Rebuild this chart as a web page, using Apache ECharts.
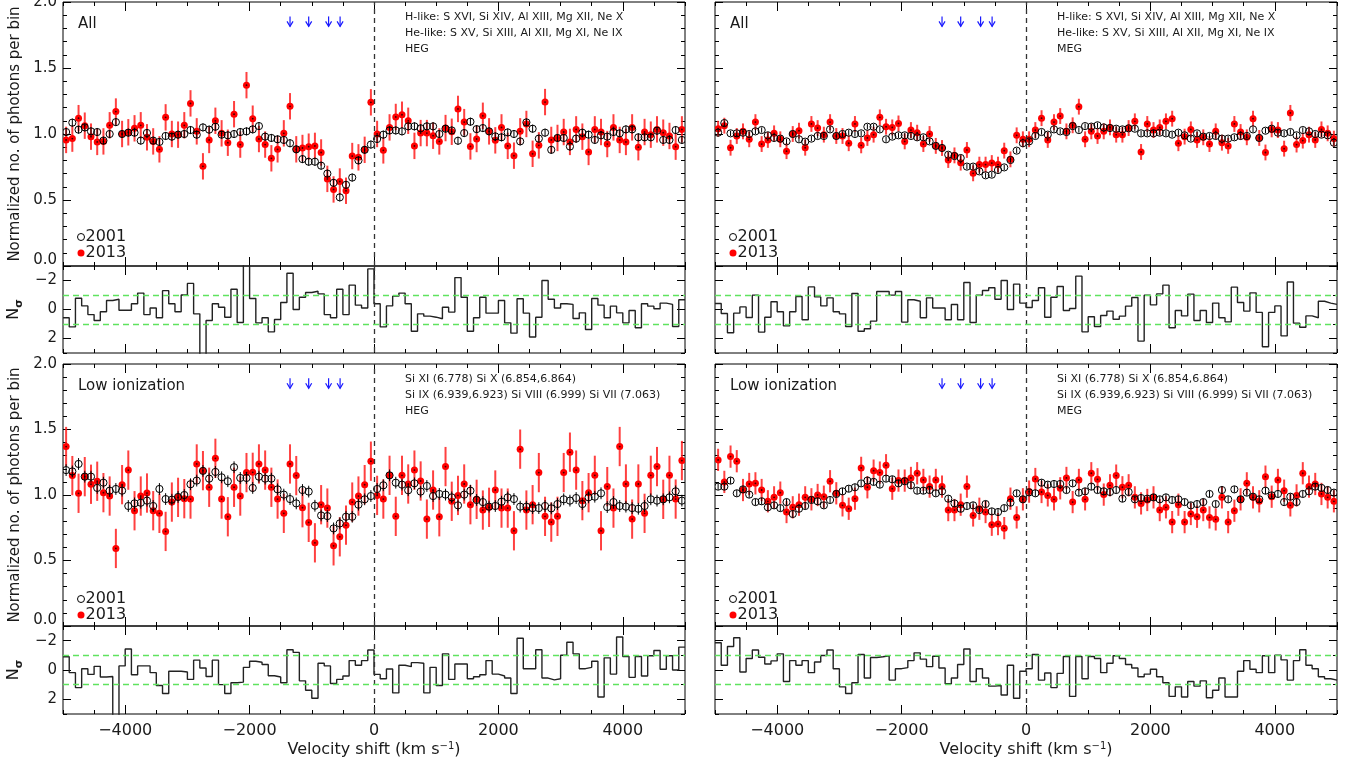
<!DOCTYPE html>
<html><head><meta charset="utf-8">
<script src="https://cdn.jsdelivr.net/npm/echarts@6/dist/echarts.min.js"></script>
<style>html,body{margin:0;padding:0;background:#fff}#c{width:1351px;height:769px}</style>
</head><body><div id="c"></div><script>
// ---------------- DATA ----------------
const velocityBinStart = -4950;   // centre of first bin (km/s)
const velocityBinWidth = 100;     // bin width (km/s)

// Panel: HEG, "All"
const hegAll2001 = [1.015,1.086,1.033,1.05,1.02,1.015,0.95,1.0,1.09,1.0,1.01,1.01,0.95,1.008,0.95,0.94,0.985,0.98,0.995,1.0,1.03,0.995,1.05,1.033,1.055,0.995,0.99,1.0,1.015,1.02,1.035,1.06,0.98,0.97,0.96,0.955,0.93,0.884,0.81,0.79,0.79,0.76,0.70,0.63,0.52,0.615,0.67,0.80,0.88,0.92,
0.962,0.995,1.027,1.027,1.02,1.058,1.058,1.043,1.058,1.058,1.0,1.04,1.027,0.949,1.007,1.093,1.037,1.045,1.02,0.982,0.975,1.012,1.0,0.944,1.088,1.04,0.965,1.01,0.88,0.97,0.97,0.905,0.965,1.01,0.995,0.955,0.99,0.98,1.015,1.005,1.035,1.035,0.975,0.975,0.975,1.025,0.955,0.955,1.03,0.955];
const hegAll2013 = [0.955,0.965,1.12,1.063,0.98,0.94,0.944,1.066,1.17,1.0,1.013,1.043,1.066,0.975,0.944,0.884,1.126,1.0,0.995,1.066,1.232,1.02,0.755,0.955,1.10,1.005,0.934,1.15,0.92,1.37,1.116,0.962,0.92,0.816,0.884,1.005,1.21,0.884,0.894,0.904,0.91,0.86,0.66,0.58,0.64,0.57,0.833,0.823,0.88,1.24,
1.0,0.876,1.05,1.129,1.146,1.10,0.91,1.007,1.007,0.987,0.944,1.045,1.017,1.19,1.09,0.906,0.962,1.138,1.02,0.952,1.05,0.91,0.836,1.02,1.076,0.85,0.914,1.242,0.955,0.97,1.015,0.94,1.035,0.98,0.864,1.035,1.015,0.924,1.05,0.955,0.94,1.05,0.9,1.015,0.995,1.035,1.01,0.985,0.904,1.035];
const hegAllResid = [0.57,1.2,-0.78,-0.25,0.35,0.76,0.16,-0.62,-0.71,0.05,0.05,-0.4,-1.13,0.35,-0.1,0.57,-1.3,-0.4,0.16,-1.0,-1.8,0.3,3.3,0.76,-0.4,-0.16,0.53,-1.4,0.9,-3.3,-0.76,0.92,0.57,1.54,0.69,-0.48,-2.5,0,-0.85,-1.17,-1.26,-1.08,0.35,0.57,-1.4,0.35,-1.68,-0.3,-0.1,-2.8,
-0.4,1.2,-0.25,-0.92,-1.13,-0.4,1.5,0.3,0.46,0.53,0.64,-0.16,0.18,-2.2,-0.85,1.5,0.57,-0.85,0.25,0.25,-0.62,0.92,1.63,-0.74,0.25,1.9,0.53,-2.0,-0.71,-0.1,-0.4,-0.35,0.62,0.23,1.38,-0.76,-0.3,0.57,-0.23,0.23,0.92,0.07,1.26,-0.4,-0.23,-0.05,-0.44,-0.35,1.17,-0.67];
const hegAllErr2001 = 0.03, hegAllErr2013 = 0.10;

// Panel: MEG, "All"
const megAll2001 = [1.01,1.083,1.005,1.005,1.01,1.0,1.02,1.03,0.99,0.97,0.965,0.944,1.0,0.96,0.942,0.965,0.985,0.985,1.035,0.985,1.0,1.01,1.0,1.005,1.055,1.055,1.035,0.96,0.98,0.99,0.99,0.985,0.975,0.975,0.944,0.91,0.894,0.843,0.833,0.818,0.753,0.753,0.717,0.687,0.692,0.727,0.747,0.803,0.874,0.93,
0.944,0.985,1.015,0.995,1.035,1.02,1.015,1.06,1.03,1.06,1.056,1.066,1.05,1.045,1.04,1.035,1.043,1.04,1.005,1.005,1.005,1.01,1.005,0.995,1.01,0.99,0.965,1.005,0.98,0.985,0.985,0.965,0.965,0.975,0.985,0.985,1.035,0.97,1.025,1.04,1.01,1.005,1.015,0.99,1.03,1.02,1.0,0.995,0.99,0.934];
const megAll2013 = [1.04,1.063,0.896,0.985,1.02,0.96,1.09,0.924,0.955,1.005,0.96,0.87,1.0,1.025,0.896,1.076,1.045,0.995,1.09,0.985,0.985,0.93,1.076,0.914,0.97,0.995,1.126,1.055,1.05,1.08,0.944,1.03,1.01,0.924,1.0,0.91,0.894,0.803,0.838,0.783,0.879,0.702,0.768,0.768,0.78,0.768,0.874,0.808,0.99,0.96,
0.96,1.03,1.12,0.955,1.09,1.136,1.02,1.066,1.207,0.96,1.02,0.985,1.02,1.05,0.995,0.995,1.045,1.096,0.864,1.076,1.03,1.05,1.096,1.116,0.93,0.98,1.035,0.955,0.975,0.924,1.02,0.934,0.91,1.076,1.015,0.975,1.116,0.97,0.86,1.035,1.03,0.889,1.16,0.92,0.95,0.995,0.955,1.035,1.005,0.965];
const megAllResid = [-0.41,0.28,1.6,0.25,-0.18,0.55,-0.99,1.56,0.53,-0.53,0.16,1.13,0.16,-0.9,0.71,-1.56,-0.87,-0.25,-0.8,0.16,0.3,1.17,-1.1,1.5,1.33,0.8,-1.24,-1.24,-0.99,-1.24,0.87,-0.67,-0.57,0.57,-0.8,-0.1,-0.1,0.71,-0.35,0.71,-1.86,0.9,-0.99,-1.31,-1.5,-0.71,-2.0,0,-1.75,-0.44,
-0.14,-0.62,-1.5,0.53,-0.85,-1.59,0.07,-0.07,-2.3,1.54,0.5,1.17,0.41,0.11,0.67,0.46,-0.23,-0.83,2.18,-0.99,-0.32,-1.08,-1.68,1.26,0.07,0.44,-1.06,0.76,0.07,0.9,-0.44,0.57,0.85,-1.54,-0.48,0.11,-1.15,0.2,2.57,0.2,-0.25,1.82,-1.9,0.94,1.22,0.44,0.57,-0.57,-0.44,-0.35];
const megAllErr2001 = 0.02, megAllErr2013 = 0.06;

// Panel: HEG, "Low ionization"
const hegLow2001 = [1.19,1.18,1.237,1.14,1.14,1.054,1.094,1.033,1.046,1.033,0.916,0.936,0.941,0.957,0.916,1.046,0.969,0.964,0.985,1.0,1.082,1.11,1.184,1.125,1.176,1.135,1.105,1.212,1.13,1.13,1.054,1.14,1.125,1.125,1.043,1.003,0.969,0.936,1.038,1.026,0.918,0.844,0.839,0.745,0.783,0.834,0.834,0.926,0.967,0.992,
1.046,1.074,1.15,1.094,1.079,1.036,1.089,1.026,1.069,0.992,1.008,1.003,0.982,0.921,1.003,1.033,0.962,0.946,0.911,0.916,0.949,0.982,0.969,0.911,0.911,0.9,0.9,0.916,0.898,0.931,0.967,0.957,0.977,0.931,0.982,0.987,1.013,0.908,0.946,0.916,0.911,0.9,0.895,0.916,0.967,0.957,0.967,0.982,1.028,0.957];
const hegLow2013 = [1.37,1.148,1.013,1.14,1.082,1.105,1.018,0.992,0.592,1.079,1.19,0.88,0.992,1.015,0.88,0.86,0.722,0.946,0.982,0.972,0.969,1.237,1.186,1.059,1.28,0.969,0.834,1.059,0.992,1.171,1.173,1.237,1.19,1.059,0.969,0.86,1.237,1.148,0.903,0.791,0.635,0.926,0.9,0.612,0.681,0.77,0.946,0.992,1.079,1.258,
0.997,0.969,1.15,0.837,1.15,1.084,1.19,1.107,0.816,1.038,0.834,1.217,0.952,0.997,1.084,0.926,0.967,0.885,0.906,1.038,0.9,0.9,0.727,1.35,0.885,0.926,1.171,0.837,0.793,0.837,1.171,1.327,1.19,0.957,1.018,1.15,0.727,1.064,0.9,1.37,1.084,0.816,1.084,0.86,1.15,1.217,0.967,1.15,0.969,1.263];
const hegLowResid = [-0.9,0.18,1.2,-0.09,0.3,-0.25,0.48,0.44,3.3,-0.28,-1.43,0.32,-0.28,-0.28,0.18,1.06,1.6,0.09,0.09,0.14,0.64,-0.67,-0.14,0.44,-0.67,1.0,1.6,0.87,0.83,-0.18,-0.6,-0.53,-0.37,0.39,0.48,0.87,-1.38,-1.2,0.74,1.38,1.93,-0.46,-0.28,0.92,0.64,0.41,-0.64,-0.32,-0.64,-1.36,
0.3,0.6,-0.07,1.56,-0.32,-0.23,-0.5,-0.46,1.56,-0.18,1.06,-1.1,0.64,-0.41,-0.41,0.6,0.46,0.32,-0.64,0.28,0.41,0.55,1.6,-2.16,-0.09,-0.09,-1.38,0.55,0.67,0.6,-1.01,-1.89,-1.1,-0.09,-0.18,-0.6,1.84,-0.83,0.28,-2.25,-0.92,0.5,-0.92,0.41,-0.97,-1.33,-0.05,-0.97,0,-1.56];
const hegLowErr2001 = 0.045, hegLowErr2013 = 0.15;

// Panel: MEG, "Low ionization"
const megLow2001 = [1.064,1.064,1.11,1.013,1.043,1.003,0.946,0.952,0.906,0.921,0.9,0.946,0.855,0.895,0.916,0.962,0.952,0.921,0.962,1.008,1.028,1.048,1.059,1.089,1.11,1.1,1.079,1.125,1.12,1.089,1.105,1.074,1.033,1.033,1.038,1.013,1.028,0.972,0.936,0.895,0.916,0.921,0.885,0.931,0.875,0.87,0.9,0.941,1.013,0.967,
1.02,1.013,1.094,1.079,1.084,1.084,1.038,1.089,1.018,1.028,1.064,1.038,1.028,1.023,1.038,0.972,1.023,0.967,0.977,0.972,0.982,0.967,0.982,0.962,0.967,0.946,0.921,0.931,0.946,1.008,0.931,1.038,0.967,1.043,0.967,1.018,0.987,0.967,1.033,0.997,1.008,0.946,0.987,0.946,1.008,1.028,1.064,1.054,1.038,1.018];
const megLow2013 = [1.268,1.1,1.293,1.258,1.038,1.084,1.089,1.038,0.952,0.982,1.018,0.87,0.906,0.926,0.982,0.967,1.0,0.987,1.105,1.013,0.921,0.895,0.972,1.207,1.059,1.186,1.171,1.227,1.048,1.11,1.11,1.13,1.166,1.115,1.064,1.115,1.064,0.885,0.885,0.926,1.064,0.844,0.895,0.87,0.773,0.778,0.747,0.972,0.829,0.967,
1.026,1.122,1.023,0.997,0.967,1.051,1.13,0.946,1.115,0.967,1.166,1.12,1.003,1.074,1.148,1.059,1.074,0.982,0.936,0.962,0.982,0.885,0.906,0.793,0.926,0.793,0.855,0.834,0.885,0.829,0.814,0.982,0.793,0.88,0.967,1.089,0.982,0.952,1.14,0.987,1.115,1.033,0.921,0.997,1.166,1.064,1.084,1.008,0.982,0.952];
const megLowResid = [-1.86,-0.32,-1.6,-2.2,0.14,-0.78,-1.36,-0.87,-0.41,-0.62,-1.1,0.78,-0.64,-0.32,-0.64,0.18,-0.55,-0.99,-1.36,-0.09,1.15,1.6,0.87,-1.06,0.55,-0.85,-0.9,-0.97,0.69,-0.09,-0.16,-0.64,-1.17,-0.74,-0.23,-0.94,-0.14,0.94,0.55,-0.37,-1.43,0.78,-0.09,0.55,1.1,1.06,1.7,-0.32,1.93,0.09,
-0.09,-1.06,0.69,0.2,1.2,0.23,-0.92,1.8,-0.92,0.6,-0.92,-0.78,0.18,-0.46,-0.97,-0.78,-0.37,-0.14,0.46,0.28,-0.05,0.46,0.87,1.8,1.15,1.84,0.78,1.1,0.74,1.89,1.38,0.55,1.84,1.84,0.09,-0.64,-0.05,0.18,-0.97,0.18,-1.01,-0.69,0.69,-0.64,-1.38,-0.32,-0.09,0.46,0.6,0.69];
const megLowErr2001 = 0.025, megLowErr2013 = 0.085;

const arrowVelocities = [-1350, -1050, -730, -545];
const arrowLevel = 1.815;
const xTickValues = [-4000, -2000, 0, 2000, 4000];
const residTickValues = [-2, 0, 2];
const linesAllHEG = ['H-like: S XVI, Si XIV, Al XIII, Mg XII, Ne X', 'He-like: S XV, Si XIII, Al XII, Mg XI, Ne IX', 'HEG'];
const linesAllMEG = ['H-like: S XVI, Si XIV, Al XIII, Mg XII, Ne X', 'He-like: S XV, Si XIII, Al XII, Mg XI, Ne IX', 'MEG'];
const linesLowHEG = ['Si XI (6.778) Si X (6.854,6.864)', 'Si IX (6.939,6.923) Si VIII (6.999) Si VII (7.063)', 'HEG'];
const linesLowMEG = ['Si XI (6.778) Si X (6.854,6.864)', 'Si IX (6.939,6.923) Si VIII (6.999) Si VII (7.063)', 'MEG'];

// ---------------- LAYOUT / STYLE ----------------
const FONT = '"DejaVu Sans", sans-serif';
const TXT = '#1a1a1a';
const cols = [{left: 63, width: 622}, {left: 715, width: 622}];
const rowsGeo = [{mTop: 2, mH: 264, rTop: 266, rH: 87}, {mTop: 364, mH: 262, rTop: 626, rH: 88}];
const panels = [
  {col: 0, row: 0, b: hegAll2001, r: hegAll2013, res: hegAllResid, eb: hegAllErr2001, er: hegAllErr2013, title: 'All', lines: linesAllHEG},
  {col: 1, row: 0, b: megAll2001, r: megAll2013, res: megAllResid, eb: megAllErr2001, er: megAllErr2013, title: 'All', lines: linesAllMEG},
  {col: 0, row: 1, b: hegLow2001, r: hegLow2013, res: hegLowResid, eb: hegLowErr2001, er: hegLowErr2013, title: 'Low ionization', lines: linesLowHEG},
  {col: 1, row: 1, b: megLow2001, r: megLow2013, res: megLowResid, eb: megLowErr2001, er: megLowErr2013, title: 'Low ionization', lines: linesLowMEG}
];
const binCenter = k => velocityBinStart + k * velocityBinWidth;
const minus = v => String(v).replace('-', '\u2212');
const tickLine = {color: '#000', width: 1};

const grids = [], xAxes = [], yAxes = [], series = [], graphics = [], legends = [];

function addGrid(left, top, width, height) {
  grids.push({left, top, width, height, show: true, borderColor: '#000', borderWidth: 1,
    backgroundColor: 'rgba(0,0,0,0)', containLabel: false, outerBoundsMode: 'none'});
  return grids.length - 1;
}
function addX(gi, labels) {
  const idx = xAxes.length;
  const base = {type: 'value', gridIndex: gi, min: -5000, max: 5000,
    axisLine: {show: false, onZero: false}, splitLine: {show: false}};
  ['bottom', 'top'].forEach(pos => {
    const lab = labels && pos === 'bottom';
    xAxes.push(Object.assign({}, base, {position: pos,
      axisTick: {show: true, inside: true, length: 9, customValues: xTickValues, lineStyle: tickLine},
      axisLabel: lab ? {show: true, customValues: xTickValues, formatter: v => minus(v),
        fontFamily: FONT, fontSize: 16, color: TXT, margin: 9} : {show: false},
      name: lab ? 'Velocity shift (km s{sup|\u22121})' : '',
      nameLocation: 'middle', nameGap: 27,
      nameTextStyle: {fontFamily: FONT, fontSize: 16, color: TXT, lineHeight: 18,
        rich: {sup: {fontFamily: FONT, fontSize: 10, color: TXT, verticalAlign: 'top', lineHeight: 10}}}
    }));
    xAxes.push(Object.assign({}, base, {position: pos, interval: 500,
      axisTick: {show: true, inside: true, length: 4, lineStyle: tickLine}, axisLabel: {show: false}}));
  });
  return idx;
}
function addYMain(gi, labels) {
  const idx = yAxes.length;
  ['left', 'right'].forEach(pos => {
    const lab = labels && pos === 'left';
    yAxes.push({type: 'value', gridIndex: gi, position: pos, min: 0, max: 2, interval: 0.5,
      axisLine: {show: false, onZero: false}, splitLine: {show: false},
      axisTick: {show: true, inside: true, length: 8, lineStyle: tickLine},
      minorTick: {show: true, splitNumber: 5, length: 4, lineStyle: tickLine},
      axisLabel: lab ? {show: true, fontFamily: FONT, fontSize: 15, color: TXT, margin: 6,
        formatter: v => v === 0 ? '{z|0.0}' : v.toFixed(1),
        rich: {z: {fontFamily: FONT, fontSize: 15, color: TXT, padding: [0, 0, 12, 0]}}} : {show: false},
      name: lab ? 'Normalized no. of photons per bin' : '',
      nameLocation: 'middle', nameGap: 40, nameRotate: 90,
      nameTextStyle: {fontFamily: FONT, fontSize: 15, color: TXT}
    });
  });
  return idx;
}
function addYRes(gi, labels) {
  const idx = yAxes.length;
  const base = {type: 'value', gridIndex: gi, min: -3, max: 3, inverse: true,
    axisLine: {show: false, onZero: false}, splitLine: {show: false}};
  ['left', 'right'].forEach(pos => {
    const lab = labels && pos === 'left';
    yAxes.push(Object.assign({}, base, {position: pos,
      axisTick: {show: true, inside: true, length: 8, customValues: residTickValues, lineStyle: tickLine},
      axisLabel: lab ? {show: true, customValues: residTickValues, formatter: v => minus(v),
        fontFamily: FONT, fontSize: 15, color: TXT, margin: 6} : {show: false},
      name: lab ? '{n|N}{s|\u03c3}' : '',
      nameLocation: 'middle', nameGap: 38, nameRotate: 90,
      nameTextStyle: {rich: {
        n: {fontFamily: FONT, fontSize: 16, color: TXT, lineHeight: 22, verticalAlign: 'middle'},
        s: {fontFamily: FONT, fontSize: 11, fontWeight: 'bold', color: TXT, lineHeight: 22, verticalAlign: 'bottom'}}}
    }));
    yAxes.push(Object.assign({}, base, {position: pos, interval: 1,
      axisTick: {show: true, inside: true, length: 4, lineStyle: tickLine}, axisLabel: {show: false}}));
  });
  return idx;
}

function renderBlack(params, api) {
  const x = api.value(0), y = api.value(1), e = api.value(2);
  const c = api.coord([x, y]), t = api.coord([x, y + e]), b = api.coord([x, y - e]);
  return {type: 'group', children: [
    {type: 'line', shape: {x1: c[0], y1: t[1], x2: c[0], y2: b[1]}, style: {stroke: '#000', lineWidth: 1}},
    {type: 'circle', shape: {cx: c[0], cy: c[1], r: 3.6}, style: {fill: 'none', stroke: '#000', lineWidth: 1}}
  ]};
}
function renderRed(params, api) {
  const x = api.value(0), y = api.value(1), e = api.value(2);
  const c = api.coord([x, y]), t = api.coord([x, y + e]), b = api.coord([x, y - e]);
  return {type: 'group', children: [
    {type: 'line', shape: {x1: c[0], y1: t[1], x2: c[0], y2: b[1]}, style: {stroke: 'rgba(255,30,30,0.85)', lineWidth: 2}},
    {type: 'circle', shape: {cx: c[0], cy: c[1], r: 3.5}, style: {fill: '#ff0000'}},
    {type: 'circle', shape: {cx: c[0], cy: c[1], r: 0.9}, style: {fill: '#3a0000'}}
  ]};
}
function renderArrow(params, api) {
  const c = api.coord([api.value(0), api.value(1)]);
  return {type: 'group', children: [
    {type: 'line', shape: {x1: c[0], y1: c[1] - 10, x2: c[0], y2: c[1]}, style: {stroke: '#1a1aff', lineWidth: 1.2}},
    {type: 'polyline', shape: {points: [[c[0] - 3, c[1] - 5], [c[0], c[1]], [c[0] + 3, c[1] - 5]]}, style: {stroke: '#1a1aff', lineWidth: 1.2, fill: 'none'}}
  ]};
}

panels.forEach(p => {
  const c = cols[p.col], g = rowsGeo[p.row];
  const leftCol = p.col === 0, bottomRow = p.row === 1;
  const gm = addGrid(c.left, g.mTop, c.width, g.mH);
  const gr = addGrid(c.left, g.rTop, c.width, g.rH);
  const xm = addX(gm, false), xr = addX(gr, bottomRow);
  const ym = addYMain(gm, leftCol), yr = addYRes(gr, leftCol);
  const zeroLine = {xAxis: 0, lineStyle: {type: [5, 4], color: '#333', width: 1.3}};

  series.push({type: 'custom', name: '2013', xAxisIndex: xm, yAxisIndex: ym, clip: true, z: 2,
    renderItem: renderRed, encode: {x: 0, y: 1},
    data: p.r.map((v, k) => [binCenter(k), v, p.er])});
  series.push({type: 'custom', name: '2001', xAxisIndex: xm, yAxisIndex: ym, clip: true, z: 3,
    renderItem: renderBlack, encode: {x: 0, y: 1},
    data: p.b.map((v, k) => [binCenter(k), v, p.eb]),
    markLine: {silent: true, symbol: 'none', label: {show: false}, animation: false, data: [zeroLine]}});
  series.push({type: 'custom', name: 'arrows', xAxisIndex: xm, yAxisIndex: ym, z: 4,
    renderItem: renderArrow, encode: {x: 0, y: 1},
    data: arrowVelocities.map(v => [v, arrowLevel])});

  const stepData = p.res.map((v, k) => [binCenter(k) - velocityBinWidth / 2, v]);
  stepData.push([binCenter(p.res.length - 1) + velocityBinWidth / 2, p.res[p.res.length - 1]]);
  series.push({type: 'line', name: 'resid', xAxisIndex: xr, yAxisIndex: yr, step: 'end',
    showSymbol: false, symbol: 'none', clip: true, z: 3, data: stepData,
    lineStyle: {color: '#222', width: 1.4},
    markLine: {silent: true, symbol: 'none', label: {show: false}, animation: false, data: [
      zeroLine,
      {yAxis: -1, lineStyle: {type: [6, 4], color: '#5fe35f', width: 1.4}},
      {yAxis: 1, lineStyle: {type: [6, 4], color: '#5fe35f', width: 1.4}}
    ]}});

  // annotations
  graphics.push({type: 'text', x: c.left + 15, y: g.mTop + 22,
    style: {text: p.title, fontFamily: FONT, fontSize: 15, fill: TXT, verticalAlign: 'middle'}});
  p.lines.forEach((ln, i) => graphics.push({type: 'text', x: c.left + 342, y: g.mTop + 15 + i * 16,
    style: {text: ln, fontFamily: FONT, fontSize: 11, fill: TXT, verticalAlign: 'middle'}}));

  legends.push({orient: 'vertical', left: c.left + 14, top: g.mTop + 227, padding: 0, itemGap: 0,
    itemWidth: 7, itemHeight: 7, selectedMode: false,
    textStyle: {fontFamily: FONT, fontSize: 16, color: TXT, lineHeight: 14, padding: [0, 0, 0, -4]},
    data: [
      {name: '2001', icon: 'circle', itemStyle: {color: '#fff', borderColor: '#000', borderWidth: 1}},
      {name: '2013', icon: 'circle', itemStyle: {color: '#ff0000', borderWidth: 0}}
    ]});
});

const chart = echarts.init(document.getElementById('c'), null, {renderer: 'canvas'});
chart.setOption({
  animation: false,
  backgroundColor: '#fff',
  grid: grids, xAxis: xAxes, yAxis: yAxes, series: series, legend: legends,
  graphic: {elements: graphics}
});
</script></body></html>
